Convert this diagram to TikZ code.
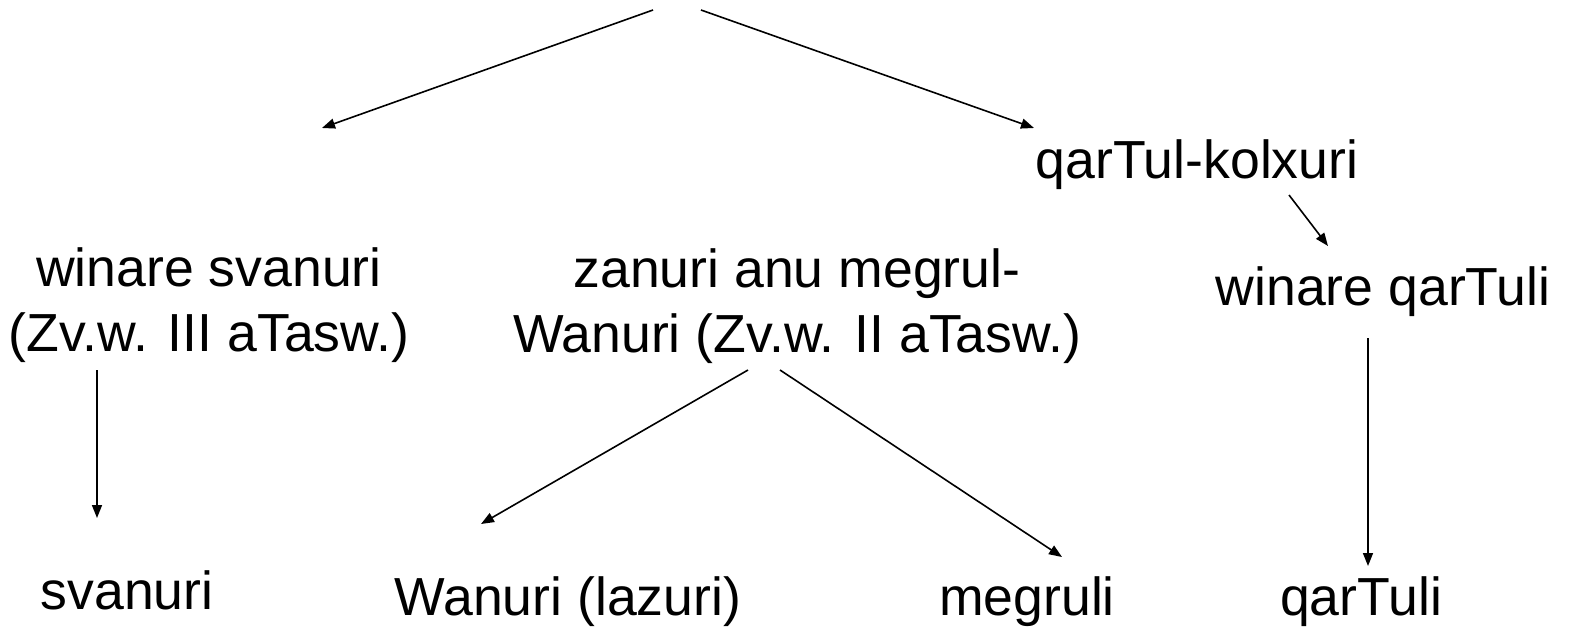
\documentclass[tikz,border=0pt]{standalone}
\usepackage{fontspec}
\setmainfont{Liberation Sans}
\usetikzlibrary{arrows.meta,calc}
\begin{document}
\begin{tikzpicture}[x=0.5pt,y=-0.5pt,line width=0.8pt,
  lang/.style={font=\fontsize{26.8}{32.5}\selectfont,align=center,inner sep=0pt},
  >={Triangle[length=6.5pt,width=5pt]}]
  \useasboundingbox (0,0) rectangle (1579,637);
  \coordinate (root) at (677,10);
  \coordinate (left) at (322,128);
  \node[lang] (qk) at (1197,165) {qarTul-kolxuri};
  \node[lang] (wsv) at (209,305) {winare svanuri\\(Zv.w. III aTasw.)};
  \node[lang] (zm) at (797,306) {zanuri anu megrul-\\Wanuri (Zv.w. II aTasw.)};
  \node[lang] (wq) at (1383,292) {winare qarTuli};
  \node[lang] (sv) at (127,590) {svanuri};
  \node[lang] (wl) at (568,602) {Wanuri (lazuri)};
  \node[lang] (mg) at (1027,602) {megruli};
  \node[lang] (qt) at (1361,602) {qarTuli};
  \draw[->] ($(root)+(-24,0)$) -- (left);
  \draw[->] ($(root)+(24,0)$) -- ($(qk)+(-163,-37)$);
  \draw[->] ($(qk)+(92,30)$) -- ($(wq)+(-55,-46)$);
  \draw[->] ($(wsv)+(-112,65)$) -- ($(sv)+(-30,-72)$);
  \draw[->] ($(zm)+(-49,64)$) -- ($(wl)+(-87,-78)$);
  \draw[->] ($(zm)+(-17,64)$) -- ($(mg)+(35,-45)$);
  \draw[->] ($(wq)+(-15,46)$) -- ($(qt)+(7,-36)$);
\end{tikzpicture}
\end{document}
